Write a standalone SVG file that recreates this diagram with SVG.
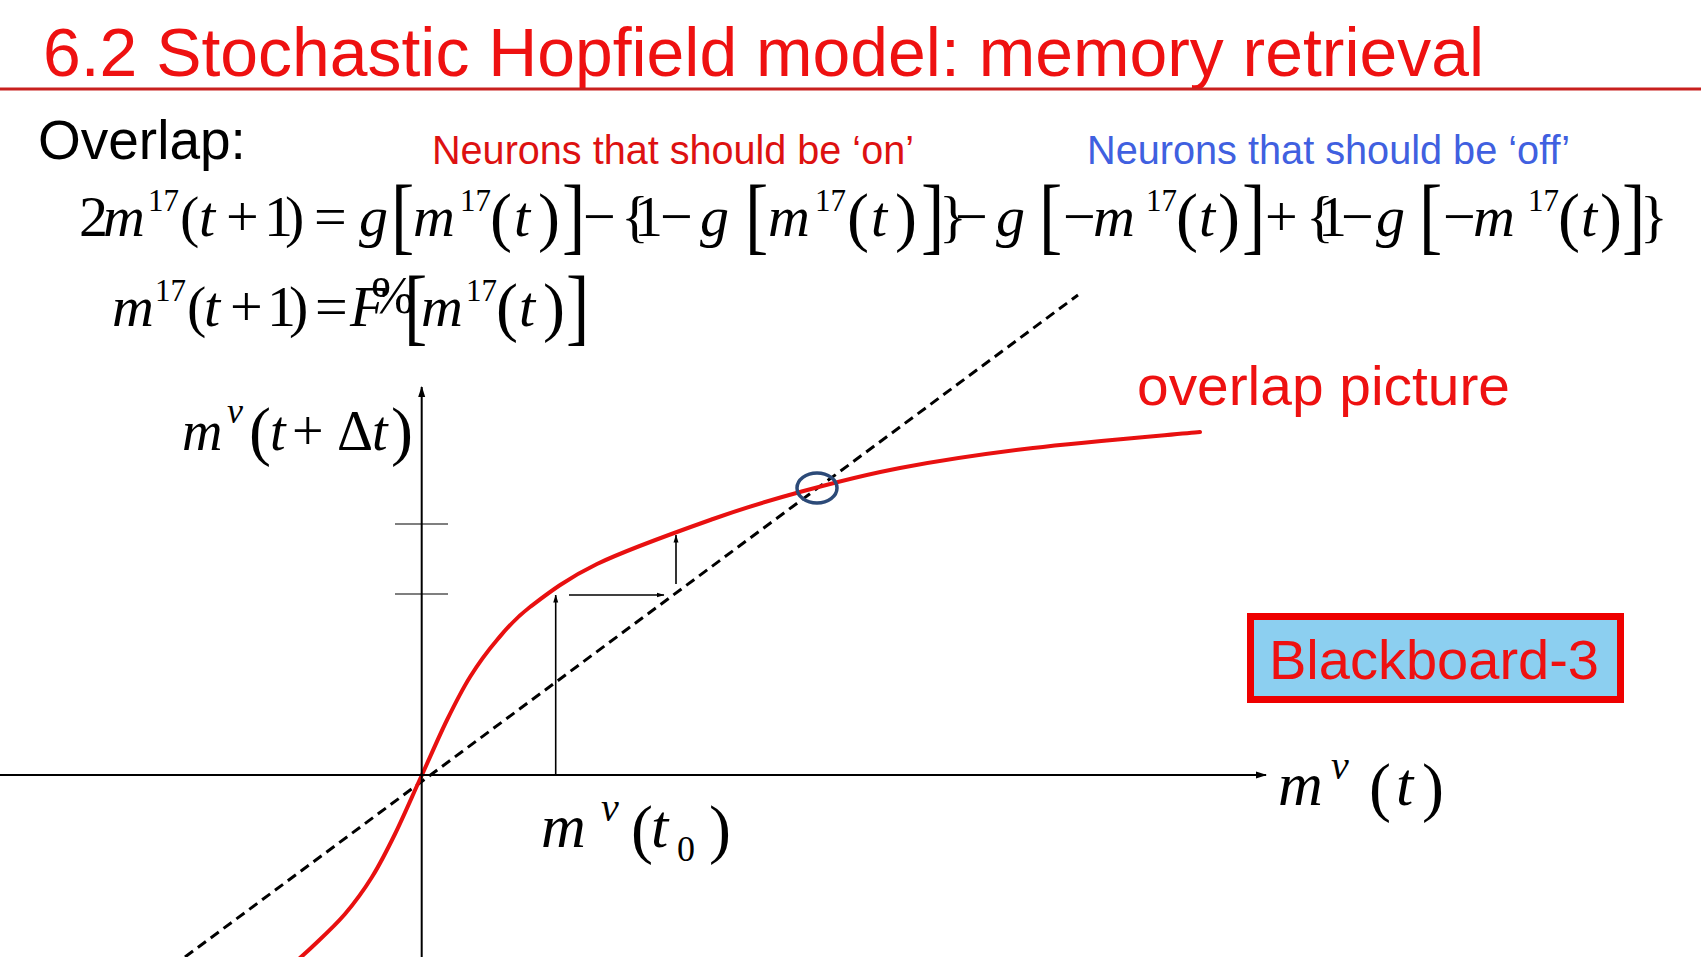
<svg xmlns="http://www.w3.org/2000/svg" width="1701" height="957" viewBox="0 0 1701 957">
<style>
.sans{font-family:"Liberation Sans",Arial,sans-serif}
.ser{font-family:"Liberation Serif","Times New Roman",serif;fill:#000}
.it{font-style:italic}
.eq{font-size:58px}
.sup{font-size:31px;font-style:normal}
.par{font-size:66px;font-style:normal}
.br{font-family:"Liberation Serif","Times New Roman",serif;font-size:70px;fill:#000}
.ax{stroke:#000;stroke-width:2;fill:none}
.thin{stroke:#000;stroke-width:1.6;fill:none}
.tick{stroke:#000;stroke-width:1.2}
</style>
<defs>
<marker id="ah" markerUnits="userSpaceOnUse" markerWidth="11" markerHeight="8" refX="10" refY="4" orient="auto"><path d="M0,0.5 L11,4 L0,7.5 z" fill="#000"/></marker>
<marker id="ahs" markerUnits="userSpaceOnUse" markerWidth="8" markerHeight="6" refX="7.5" refY="3" orient="auto"><path d="M0,0.5 L8,3 L0,5.5 z" fill="#000"/></marker>
</defs>
<rect width="1701" height="957" fill="#fff"/>

<g id="title">
<text class="sans" x="43" y="76" font-size="68" fill="#ee1111" textLength="1441" lengthAdjust="spacingAndGlyphs">6.2 Stochastic Hopfield model: memory retrieval</text>
<line x1="0" y1="89" x2="1701" y2="89" stroke="#c8201e" stroke-width="3"/>
</g>

<g id="overlap-label"><text class="sans" x="38" y="159" font-size="55" fill="#000">Overlap:</text></g>
<g id="on-label"><text class="sans" x="432" y="164" font-size="40" fill="#dd1111" textLength="482" lengthAdjust="spacingAndGlyphs">Neurons that should be ‘on’</text></g>
<g id="off-label"><text class="sans" x="1087" y="164" font-size="40" fill="#4060e0" textLength="483" lengthAdjust="spacingAndGlyphs">Neurons that should be ‘off’</text></g>

<g id="equation1">
<text class="ser eq" y="236"><tspan x="79">2</tspan><tspan class="it" x="103">m</tspan><tspan class="sup" x="148" y="211">17</tspan><tspan x="180" y="236">(</tspan><tspan class="it" x="199">t</tspan><tspan x="226">+</tspan><tspan x="264">1</tspan><tspan x="285">)</tspan><tspan x="314">=</tspan><tspan class="it" x="359">g</tspan><tspan class="it" x="413">m</tspan><tspan class="sup" x="460" y="211">17</tspan><tspan class="par" x="490" y="239">(</tspan><tspan class="it" x="514" y="236">t</tspan><tspan class="par" x="538" y="239">)</tspan><tspan x="583" y="236">−</tspan><tspan x="621">{</tspan><tspan x="634">1</tspan><tspan x="660">−</tspan><tspan class="it" x="700">g</tspan><tspan class="it" x="768">m</tspan><tspan class="sup" x="815" y="211">17</tspan><tspan class="par" x="847" y="239">(</tspan><tspan class="it" x="871" y="236">t</tspan><tspan class="par" x="895" y="239">)</tspan><tspan x="939" y="236">}</tspan><tspan x="955">−</tspan><tspan class="it" x="996">g</tspan><tspan x="1063">−</tspan><tspan class="it" x="1093">m</tspan><tspan class="sup" x="1146" y="211">17</tspan><tspan class="par" x="1176" y="239">(</tspan><tspan class="it" x="1199" y="236">t</tspan><tspan class="par" x="1218" y="239">)</tspan><tspan x="1265" y="236">+</tspan><tspan x="1306">{</tspan><tspan x="1318">1</tspan><tspan x="1341">−</tspan><tspan class="it" x="1376">g</tspan><tspan x="1443">−</tspan><tspan class="it" x="1473">m</tspan><tspan class="sup" x="1528" y="211">17</tspan><tspan class="par" x="1558" y="239">(</tspan><tspan class="it" x="1581" y="236">t</tspan><tspan class="par" x="1600" y="239">)</tspan><tspan x="1640" y="236">}</tspan></text>
<text class="br" transform="matrix(1,0,0,1.22,391,244)">[</text>
<text class="br" transform="matrix(1,0,0,1.22,562,244)">]</text>
<text class="br" transform="matrix(1,0,0,1.22,745,244)">[</text>
<text class="br" transform="matrix(1,0,0,1.22,921,244)">]</text>
<text class="br" transform="matrix(1,0,0,1.22,1039,244)">[</text>
<text class="br" transform="matrix(1,0,0,1.22,1242,244)">]</text>
<text class="br" transform="matrix(1,0,0,1.22,1419,244)">[</text>
<text class="br" transform="matrix(1,0,0,1.22,1622,244)">]</text>
</g>

<g id="equation2">
<text class="ser eq" y="326"><tspan class="it" x="112">m</tspan><tspan class="sup" x="155" y="301">17</tspan><tspan x="187" y="326">(</tspan><tspan class="it" x="204">t</tspan><tspan x="230">+</tspan><tspan x="267">1</tspan><tspan x="289">)</tspan><tspan x="315">=</tspan><tspan class="it" x="350">F</tspan><tspan font-size="52" x="371" y="313">%</tspan><tspan class="it" x="421" y="326">m</tspan><tspan class="sup" x="466" y="301">17</tspan><tspan class="par" x="496" y="329">(</tspan><tspan class="it" x="519" y="326">t</tspan><tspan class="par" x="543" y="329">)</tspan></text>
<text class="br" font-size="76" transform="matrix(1,0,0,1.22,404,335)">[</text>
<text class="br" font-size="76" transform="matrix(1,0,0,1.22,566,335)">]</text>
</g>

<g id="overlap-picture-label"><text class="sans" x="1137" y="405" font-size="56" fill="#ee1111" textLength="373" lengthAdjust="spacingAndGlyphs">overlap picture</text></g>

<g id="blackboard">
<rect x="1250.5" y="616.5" width="370" height="83" fill="#8ccff0" stroke="#ee0000" stroke-width="7"/>
<text class="sans" x="1269" y="679" font-size="56" fill="#ee1111" textLength="330" lengthAdjust="spacingAndGlyphs">Blackboard-3</text>
</g>

<g id="graph">
<line class="tick" x1="395" y1="524" x2="448" y2="524"/>
<line class="tick" x1="395" y1="594" x2="448" y2="594"/>
<line x1="185" y1="957" x2="1078" y2="295" stroke="#000" stroke-width="3" stroke-dasharray="10 6"/>
<path id="overlap-curve" d="M285,971 C289.5,967 302,956.5 312,947 C322,937.5 335,925.7 345,914 C355,902.3 363.7,890.3 372,877 C380.3,863.7 386.8,850.7 395,834 C403.2,817.3 412.3,796 421,777 C429.7,758 438.8,736.7 447,720 C455.2,703.3 461.7,690.3 470,677 C478.3,663.7 487,651.7 497,640 C507,628.3 513.3,619.7 530,607 C546.7,594.3 566.5,578.7 597,564 C627.5,549.3 679.2,531 713,519 C746.8,507 768.8,500.5 800,492 C831.2,483.5 861.2,475.3 900,468 C938.8,460.7 983,454 1033,448 C1083,442 1172.2,434.7 1200,432" fill="none" stroke="#e81010" stroke-width="4" stroke-linecap="round"/>
<ellipse id="fixed-point" cx="817" cy="488" rx="20" ry="15" fill="none" stroke="#2c4a78" stroke-width="3.5"/>
</g>

<g id="connectors">
<line class="ax" x1="0" y1="775" x2="1266" y2="775" marker-end="url(#ah)"/>
<line class="ax" x1="421.7" y1="957" x2="421.7" y2="387" marker-end="url(#ah)"/>
<line class="thin" x1="555.7" y1="775" x2="555.7" y2="595" marker-end="url(#ahs)"/>
<line class="thin" x1="569" y1="595" x2="664" y2="595" marker-end="url(#ahs)"/>
<line class="thin" x1="676" y1="584" x2="676" y2="535" marker-end="url(#ahs)"/>
</g>

<g id="y-label">
<text class="ser" font-size="56" y="450"><tspan class="it" x="182">m</tspan><tspan class="it" font-size="36" x="227" y="423">ν</tspan><tspan class="par" font-size="64" x="249" y="453">(</tspan><tspan class="it" x="270" y="450">t</tspan><tspan x="292">+</tspan><tspan x="337">Δ</tspan><tspan class="it" x="372">t</tspan><tspan class="par" font-size="64" x="391" y="453">)</tspan></text>
</g>

<g id="x-label">
<text class="ser" font-size="62" y="805"><tspan class="it" x="1278">m</tspan><tspan class="it" font-size="40" x="1331" y="779">ν</tspan><tspan class="par" font-size="68" x="1369" y="809">(</tspan><tspan class="it" x="1396" y="805">t</tspan><tspan class="par" font-size="68" x="1422" y="809">)</tspan></text>
</g>

<g id="t0-label">
<text class="ser" font-size="62" y="847"><tspan class="it" x="541">m</tspan><tspan class="it" font-size="40" x="601" y="821">ν</tspan><tspan class="par" font-size="68" x="631" y="851">(</tspan><tspan class="it" x="651" y="847">t</tspan><tspan font-size="36" x="677" y="861">0</tspan><tspan class="par" font-size="68" x="709" y="851">)</tspan></text>
</g>
</svg>
